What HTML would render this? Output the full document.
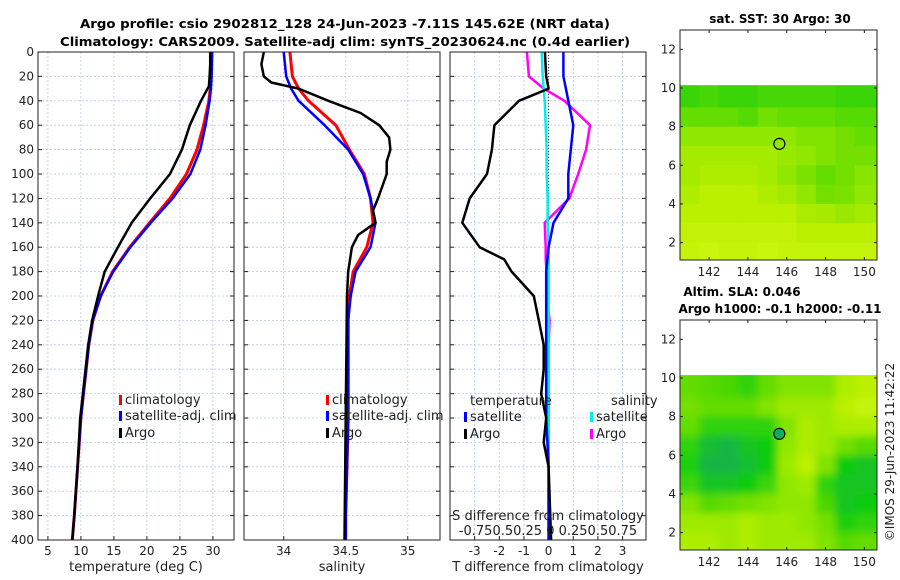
<!DOCTYPE html>
<html><head><meta charset="utf-8"><style>
body{margin:0;background:#fff;}
svg{display:block;font-family:"DejaVu Sans","Liberation Sans",sans-serif;}
</style></head><body>
<svg id="chart" width="900" height="580" viewBox="0 0 900 580">
<defs><filter id="blur"><feGaussianBlur stdDeviation="4"/></filter>
<clipPath id="c1"><rect x="680" y="30" width="197" height="230"/></clipPath>
<clipPath id="c2"><rect x="680" y="320" width="197" height="230"/></clipPath></defs>
<text x="345" y="28" font-size="12.5" font-weight="bold" text-anchor="middle" textLength="530" lengthAdjust="spacingAndGlyphs">Argo profile: csio 2902812_128 24-Jun-2023 -7.11S 145.62E (NRT data)</text>
<text x="345" y="46" font-size="12.5" font-weight="bold" text-anchor="middle" textLength="570" lengthAdjust="spacingAndGlyphs">Climatology: CARS2009. Satellite-adj clim: synTS_20230624.nc (0.4d earlier)</text>
<text x="780" y="23" font-size="12" font-weight="bold" text-anchor="middle">sat. SST: 30 Argo: 30</text>
<text x="742" y="296" font-size="12" font-weight="bold" text-anchor="middle">Altim. SLA: 0.046</text>
<text x="780" y="313" font-size="12" font-weight="bold" text-anchor="middle">Argo h1000: -0.1 h2000: -0.11</text>
<text transform="translate(894,452) rotate(-90)" font-size="12" text-anchor="middle" fill="#222">©IMOS 29-Jun-2023 11:42:22</text>
<g id="g"></g>
</svg>
<script>
const depths=[0,20,30,40,60,80,100,120,140,160,180,200,220,240,260,280,300,340,380,400];
const climT=[29.8,29.7,29.6,29.4,28.6,27.6,26.0,23.5,20.4,17.4,14.8,13.0,11.8,11.2,10.8,10.4,10.0,9.5,9.0,8.7];
const satT=[29.9,29.8,29.7,29.5,28.9,28.1,26.6,23.9,20.6,17.5,14.9,13.0,11.8,11.2,10.8,10.4,10.0,9.5,9.0,8.7];
const argoDepths=[0,10,20,28,40,60,80,100,120,140,160,180,200,220,240,280,300,340,380,400];
const argoT=[29.6,29.6,29.5,29.4,28.2,26.5,25.3,23.5,20.5,17.7,15.6,13.6,12.6,11.7,11.1,10.3,9.9,9.5,9.0,8.7];
const climS=[34.05,34.07,34.12,34.2,34.42,34.53,34.65,34.7,34.72,34.67,34.56,34.53,34.52,34.52,34.52,34.52,34.52,34.51,34.5,34.5];
const satS=[34.0,34.02,34.06,34.12,34.33,34.52,34.64,34.7,34.74,34.7,34.58,34.54,34.52,34.52,34.52,34.52,34.52,34.51,34.5,34.5];
const argoSDepths=[0,10,20,25,30,40,50,60,70,80,90,100,120,130,140,150,160,180,200,300,400];
const argoS=[33.84,33.82,33.84,33.9,34.12,34.36,34.62,34.77,34.85,34.86,34.83,34.83,34.76,34.72,34.74,34.6,34.55,34.52,34.51,34.5,34.49];
const dDepths=[0,20,30,40,60,80,100,120,140,160,170,180,200,220,240,260,280,300,320,340,400];
const dTArgo=[-0.15,-0.1,0,-1.2,-2.2,-2.3,-2.5,-3.2,-3.5,-2.8,-1.8,-1.5,-0.6,-0.4,-0.2,-0.2,-0.3,-0.1,-0.2,0,0.1];
const dTSat=[0.6,0.6,0.7,0.8,1.0,0.9,0.8,0.8,0.2,0,-0.05,-0.1,-0.1,-0.1,-0.1,-0.1,-0.1,-0.1,-0.05,0,0];
const dSSat=[-0.07,-0.06,-0.05,-0.04,-0.03,-0.02,-0.02,-0.01,-0.01,0,0,0,0,0,0,0,0,0,0,0,0];
const dSArgo=[-0.22,-0.2,-0.05,0.16,0.42,0.38,0.3,0.21,-0.04,-0.03,-0.03,-0.02,-0.02,0.01,0,0,0,0,0,0,0];
const sstGrid=[[.35,.4,.35,.35,.4,.4,.4,.4,.35,.35],[.5,.5,.5,.45,.55,.5,.5,.5,.45,.45],[.65,.65,.65,.65,.65,.65,.6,.6,.55,.5],[.72,.72,.72,.72,.72,.68,.65,.6,.55,.55],[.72,.76,.76,.76,.72,.65,.58,.5,.55,.62],[.76,.8,.8,.8,.76,.72,.65,.55,.58,.65],[.8,.8,.8,.8,.8,.8,.74,.72,.68,.72],[.84,.84,.84,.84,.84,.84,.8,.8,.8,.8],[.85,.88,.85,.85,.88,.85,.85,.85,.85,.85]];
const slaGrid=[[.5,.45,.4,.3,.5,.6,.6,.6,.75,.8],[.55,.5,.5,.5,.6,.7,.7,.7,.8,.85],[.5,.3,.3,.3,.3,.6,.75,.7,.75,.75],[.3,.1,.05,.15,.2,.65,.75,.7,.55,.45],[.25,.05,.05,.1,.2,.7,.8,.6,.2,.15],[.35,.15,.15,.2,.35,.65,.7,.3,.15,.15],[.6,.45,.5,.55,.6,.65,.65,.4,.15,.2],[.7,.7,.7,.75,.7,.7,.65,.55,.25,.3],[.75,.75,.7,.75,.7,.7,.7,.6,.45,.5]];
const yTicks=[0,20,40,60,80,100,120,140,160,180,200,220,240,260,280,300,320,340,360,380,400];
const tTicks=[5,10,15,20,25,30];
const sTicks=[34,34.5,35];
const dTicks=[-3,-2,-1,0,1,2,3];
const sDiffLabels="-0.750.50.25 0 0.250.50.75";
const lonTicks=[142,144,146,148,150];
const latTicks=[2,4,6,8,10,12];
const floatLon=145.62, floatLat=7.11;

const NS="http://www.w3.org/2000/svg";
const G=document.getElementById('g');
function el(t,a,p){const e=document.createElementNS(NS,t);for(const k in a)e.setAttribute(k,a[k]);(p||G).appendChild(e);return e;}
const Y0=52,Y1=540;
const yS=d=>Y0+(d/400)*(Y1-Y0);
const panels=[{x0:38,x1:234,d0:3.5,d1:33.2},{x0:244,x1:440,d0:33.68,d1:35.26},{x0:450,x1:646,d0:-4,d1:3.95}];
const xs=(p,v)=>p.x0+(v-p.d0)/(p.d1-p.d0)*(p.x1-p.x0);
function grid(p,ticks,labels){
 ticks.forEach((t,i)=>{const x=xs(p,t);
  const l=el('line',{x1:x,x2:x,y1:Y0,y2:Y1,stroke:'#b8c8e8','stroke-dasharray':'2,2','stroke-width':0.8});
  
  el('line',{x1:x,x2:x,y1:Y1,y2:Y1-4,stroke:'#222'});
  const tx=el('text',{x:x,y:Y1+15,'font-size':12,'text-anchor':'middle',fill:'#222'});tx.textContent=labels?labels[i]:t;
  });
 yTicks.forEach(d=>{const y=yS(d);
  const l=el('line',{x1:p.x0,x2:p.x1,y1:y,y2:y,stroke:'#b8c8e8','stroke-dasharray':'2,2','stroke-width':0.8});
  
  el('line',{x1:p.x0,x2:p.x0+4,y1:y,y2:y,stroke:'#222'});el('line',{x1:p.x1,x2:p.x1-4,y1:y,y2:y,stroke:'#222'});});
}
function line(p,vals,ds,col,w,name){
 const pts=vals.map((v,i)=>xs(p,v).toFixed(1)+','+yS(ds[i]).toFixed(1)).join(' ');
 const e=el('polyline',{points:pts,fill:'none',stroke:col,'stroke-width':w,'stroke-linejoin':'round'});
 
}
function frame(p,name){const r=el('rect',{x:p.x0,y:Y0,width:p.x1-p.x0,height:Y1-Y0,fill:'none',stroke:'#222','stroke-width':1});
 }
function txt(x,y,s,sz,anchor,name){const t=el('text',{x:x,y:y,'font-size':sz,'text-anchor':anchor||'start',fill:'#222'});t.textContent=s;
 return t;}
function leg(x,y,col,label,name){el('rect',{x:x,y:y-9,width:3,height:10,fill:col});txt(x+6,y,label,13,'start',name);}

let p=panels[0];grid(p,tTicks);
yTicks.forEach(d=>{const t=el('text',{x:p.x0-4,y:yS(d)+4,'font-size':12,'text-anchor':'end',fill:'#222'});t.textContent=d;
 });
line(p,climT,depths,'#f00',3,'climatology-temperature-line');
line(p,satT,depths,'#00f',2.5,'satellite-temperature-line');
line(p,argoT,argoDepths,'#000',2.5,'argo-temperature-line');
frame(p,'temperature-panel');
txt(136,571,'temperature (deg C)',13,'middle','temperature-axis-title');
leg(119,404,'#f00','climatology','legend-climatology');leg(119,420,'#00f','satellite-adj. clim','legend-satellite');leg(119,437,'#000','Argo','legend-argo');
p=panels[1];grid(p,sTicks);
line(p,climS,depths,'#f00',3,'climatology-salinity-line');
line(p,satS,depths,'#00f',2.5,'satellite-salinity-line');
line(p,argoS,argoSDepths,'#000',2.5,'argo-salinity-line');
frame(p,'salinity-panel');
txt(342,571,'salinity',13,'middle','salinity-axis-title');
leg(326,404,'#f00','climatology','legend-climatology-2');leg(326,420,'#00f','satellite-adj. clim','legend-satellite-2');leg(326,437,'#000','Argo','legend-argo-2');
p=panels[2];grid(p,dTicks);
el('line',{x1:xs(p,0),x2:xs(p,0),y1:Y0,y2:Y1,stroke:'#333','stroke-dasharray':'1,2'});
line(p,dSArgo.map(v=>v*4),dDepths,'#f0f',2.5,'argo-salinity-diff-line');
line(p,dSSat.map(v=>v*4),dDepths,'#0ee',2.5,'satellite-salinity-diff-line');
line(p,dTSat,dDepths,'#00f',2.5,'satellite-temperature-diff-line');
line(p,dTArgo,dDepths,'#000',2.5,'argo-temperature-diff-line');
frame(p,'difference-panel');
txt(548,571,'T difference from climatology',13,'middle','t-diff-axis-title');
txt(548,520,'S difference from climatology',13,'middle','s-diff-axis-title');
txt(548,535,sDiffLabels,13,'middle','s-diff-tick-labels');
txt(470,405,'temperature',13,'start','legend-temperature-header');
txt(611,405,'salinity',13,'start','legend-salinity-header');
leg(464,421,'#00f','satellite','legend-t-satellite');leg(464,438,'#000','Argo','legend-t-argo');
leg(590,421,'#0ee','satellite','legend-s-satellite');leg(590,438,'#f0f','Argo','legend-s-argo');

function cmap(v){const st=[[0,[25,175,85]],[0.2,[17,204,17]],[0.5,[100,221,0]],[0.8,[187,240,0]],[1,[221,255,32]]];
 for(let i=1;i<st.length;i++){if(v<=st[i][0]){const a=st[i-1],b=st[i],f=(v-a[0])/(b[0]-a[0]);
  return 'rgb('+a[1].map((c,k)=>Math.round(c+(b[1][k]-c)*f)).join(',')+')';}}return 'rgb(221,255,32)';}
function map(top,grid,name,blur,clip){
 const m={x0:680,x1:877,lo0:140.5,lo1:150.65,y0:top,y1:top+230,la1:13.0,la0:1.1};
 const mx=v=>m.x0+(v-m.lo0)/(m.lo1-m.lo0)*(m.x1-m.x0);
 const my=v=>m.y0+(m.la1-v)/(m.la1-m.la0)*(m.y1-m.y0);
 const cg=el('g',{'clip-path':'url(#'+clip+')'});
 const gg=el('g',blur?{filter:'url(#blur)'}:{},cg);
 const latEdges=[10.15,9,8,7,6,5,4,3,2,1.1], lonEdges=[140.5,141.5,142.5,143.5,144.5,145.5,146.5,147.5,148.5,149.5,150.65];
 grid.forEach((row,r)=>row.forEach((v,c)=>{
  const x=mx(lonEdges[c]),y=my(latEdges[r]);
  const ext=blur?8:0;
  const cell=el('rect',{x:x-(c==0?ext:0),y:y-(r==0?ext:0),width:mx(lonEdges[c+1])-x+(c==0||c==9?ext:0)+0.5,height:my(latEdges[r+1])-y+(r==8||r==0?ext:0)+0.5,fill:cmap(v)},gg);
  }));
 el('rect',{x:m.x0,y:m.y0,width:m.x1-m.x0,height:my(10.15)-m.y0,fill:'#fff'},cg);
 const c=el('circle',{cx:mx(floatLon),cy:my(floatLat),r:5.5,fill:blur?'#10b060':'none',stroke:'#000','stroke-width':1.2});
 
 const f=el('rect',{x:m.x0,y:m.y0,width:m.x1-m.x0,height:m.y1-m.y0,fill:'none',stroke:'#222'});
 
 lonTicks.forEach(l=>{const x=mx(l);el('line',{x1:x,x2:x,y1:m.y1,y2:m.y1-3,stroke:'#222'});el('line',{x1:x,x2:x,y1:m.y0,y2:m.y0+3,stroke:'#222'});
  txt(x,m.y1+16,l,12,'middle','lon-tick-label');});
 latTicks.forEach(l=>{const y=my(l);el('line',{x1:m.x0,x2:m.x0+3,y1:y,y2:y,stroke:'#222'});el('line',{x1:m.x1,x2:m.x1-3,y1:y,y2:y,stroke:'#222'});
  txt(m.x0-4,y+4,l,12,'end','lat-tick-label');});
}
map(30,sstGrid,'sst-map',false,'c1');
map(320,slaGrid,'sla-map',true,'c2');
</script>
</body></html>
